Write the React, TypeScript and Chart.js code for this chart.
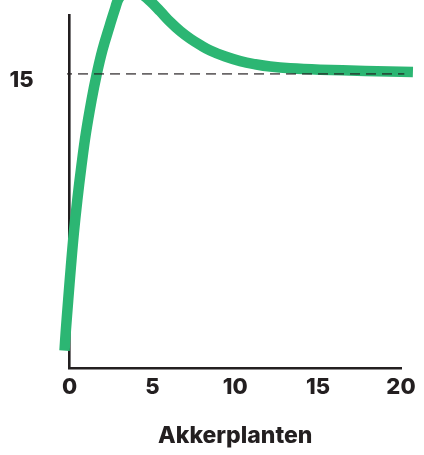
import React, { useEffect, useRef } from "react";
import { Chart, registerables } from "chart.js";

Chart.register(...registerables);

// Curve (x = Akkerplanten, y = value)
const curveX = [-0.3, -0.22, -0.08, 0.08, 0.26, 0.47, 0.71, 0.99, 1.33, 1.63, 1.99, 2.44, 2.74, 2.98, 3.37, 3.74, 4.28, 4.88, 5.48, 6.08, 6.69, 7.29, 7.89, 8.49, 9.4, 10.3, 11.2, 12.11, 13.31, 15.12, 17.83, 20.72];
const curveY = [0.89, 1.92, 3.45, 5.13, 6.87, 8.56, 10.24, 11.98, 13.66, 14.94, 16.22, 17.49, 18.3, 18.85, 19.15, 19.26, 19.1, 18.7, 18.18, 17.64, 17.17, 16.79, 16.47, 16.19, 15.88, 15.65, 15.49, 15.37, 15.28, 15.21, 15.15, 15.09];

// Dashed reference line at 15
const refLineX = [-0.15, 20.2];
const refLineY = [15, 15];

const xTicks = [0, 5, 10, 15, 20];
const yTicks = [15];
const xRange = [0, 20];
const yRange = [0, 18];
const xTitle = "Akkerplanten";

const GREEN = "#2cb673";
const INK = "#231f20";
const FONT = "Inter, 'Liberation Sans', Arial, sans-serif";

export default function App() {
  const ref = useRef<HTMLCanvasElement | null>(null);

  useEffect(() => {
    if (!ref.current) return;
    const curve = curveX.map((x, i) => ({ x, y: curveY[i] }));
    const refLine = refLineX.map((x, i) => ({ x, y: refLineY[i] }));

    const chart = new Chart(ref.current, {
      type: "line",
      data: {
        datasets: [
          {
            data: refLine,
            borderColor: "rgba(35,31,32,0.68)",
            borderWidth: 1.8,
            borderDash: [10, 6],
            borderDashOffset: 5,
            pointRadius: 0,
            clip: false as any,
            tension: 0,
          },
          {
            data: curve,
            borderColor: GREEN,
            borderWidth: 10.5,
            pointRadius: 0,
            tension: 0.4,
            capBezierPoints: false,
            borderCapStyle: "butt",
            borderJoinStyle: "round",
            clip: false as any,
          },
        ],
      },
      options: {
        responsive: false,
        animation: false,
        events: [],
        elements: { line: { capBezierPoints: false } },
        layout: { padding: { left: 0, right: 23, top: 15, bottom: 0 } },
        plugins: {
          legend: { display: false },
          tooltip: { enabled: false },
        },
        scales: {
          x: {
            type: "linear",
            afterDataLimits: (s: any) => {
              s.min = xRange[0];
              s.max = xRange[1];
            },
            afterBuildTicks: (s: any) => {
              s.ticks = xTicks.map((v) => ({ value: v }));
            },
            afterFit: (s: any) => {
              s.height = 87;
              s.paddingLeft = 0;
              s.paddingRight = 0;
              s.paddingTop = 0;
              s.paddingBottom = 0;
            },
            grid: { display: false, drawTicks: false },
            border: { display: true, color: INK, width: 2.6 },
            ticks: {
              padding: 6,
              color: INK,
              maxRotation: 0,
              autoSkip: false,
              font: { family: FONT, size: 22, weight: "800" },
            },
            title: {
              display: true,
              text: xTitle,
              color: INK,
              font: { family: FONT, size: 23, weight: "800" },
              padding: { top: 0, bottom: 5 },
            },
          },
          y: {
            type: "linear",
            z: 1,
            afterDataLimits: (s: any) => {
              s.min = yRange[0];
              s.max = yRange[1];
            },
            afterBuildTicks: (s: any) => {
              s.ticks = yTicks.map((v) => ({ value: v }));
            },
            afterFit: (s: any) => {
              s.width = 69.5;
              s.paddingLeft = 0;
              s.paddingRight = 0;
              s.paddingTop = 0;
              s.paddingBottom = 0;
            },
            grid: { display: false, drawTicks: false },
            border: { display: true, color: INK, width: 2.6 },
            ticks: {
              padding: 36,
              labelOffset: 7,
              color: INK,
              font: { family: FONT, size: 22, weight: "800" },
            },
          },
        },
      } as any,
    });

    return () => chart.destroy();
  }, []);

  return (
    <div style={{ position: "absolute", left: 0, top: 0, width: 424, height: 455, background: "#fff" }}>
      <canvas ref={ref} width={424} height={455} style={{ display: "block", width: 424, height: 455 }} />
    </div>
  );
}
